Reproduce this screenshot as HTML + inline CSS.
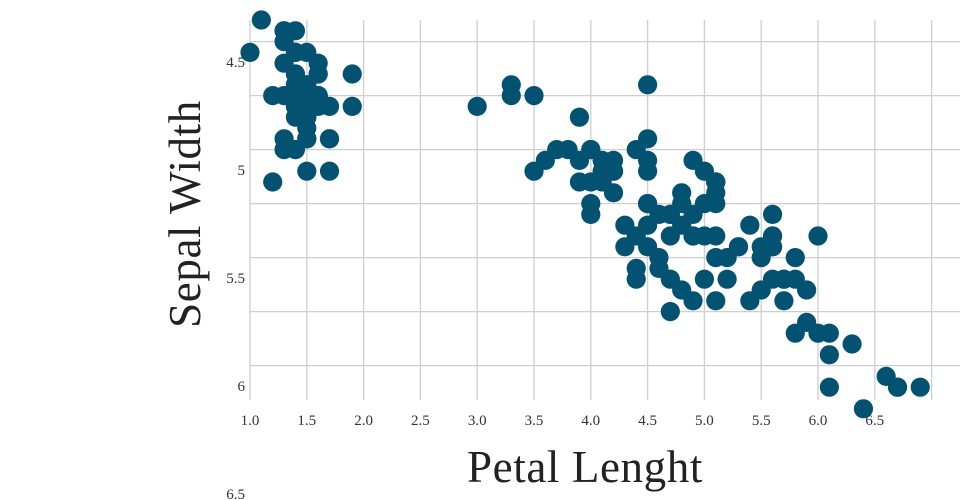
<!DOCTYPE html>
<html><head><meta charset="utf-8"><style>
html,body{margin:0;padding:0;background:#fff;}
svg{display:block;}
text{font-family:"Liberation Serif",serif;}
</style></head><body>
<svg id="s" width="960" height="500" xmlns="http://www.w3.org/2000/svg">
<g id="grid" stroke="#cfcfcf" stroke-width="1.3"></g>
<g id="pts" fill="#035272"></g>
<g font-size="15" fill="#333" id="lab"></g>
<text x="585" y="482" font-size="45" letter-spacing="0.6" text-anchor="middle" fill="#222">Petal Lenght</text>
<text transform="translate(200,214) rotate(-90)" font-size="45" letter-spacing="0.6" text-anchor="middle" fill="#222">Sepal Width</text>
</svg>
<script>
var NS="http://www.w3.org/2000/svg";
function el(p,n,a,t){var e=document.createElementNS(NS,n);for(var k in a)e.setAttribute(k,a[k]);if(t)e.textContent=t;p.appendChild(e);}
var g=document.getElementById('grid'),lab=document.getElementById('lab'),pts=document.getElementById('pts');
for(var i=0;i<13;i++){var x=250+i*56.8;el(g,'line',{x1:x,x2:x,y1:20,y2:400});}
for(var j=0;j<7;j++){var y=41.6+j*54;el(g,'line',{x1:250,x2:960,y1:y,y2:y});}
var xl=["1.0","1.5","2.0","2.5","3.0","3.5","4.0","4.5","5.0","5.5","6.0","6.5"];
for(var i=0;i<xl.length;i++)el(lab,'text',{x:250+i*56.8,y:425,'text-anchor':'middle'},xl[i]);
var yl=["4.5","5","5.5","6","6.5"];
for(var j=0;j<yl.length;j++)el(lab,'text',{x:245,y:67+j*108,'text-anchor':'end'},yl[j]);
var d=[5.1,1.4,4.9,1.4,4.7,1.3,4.6,1.5,5.0,1.4,5.4,1.7,4.6,1.4,5.0,1.5,4.4,1.4,4.9,1.5,
5.4,1.5,4.8,1.6,4.8,1.4,4.3,1.1,5.8,1.2,5.7,1.5,5.4,1.3,5.1,1.4,5.7,1.7,5.1,1.5,
5.4,1.7,5.1,1.5,4.6,1.0,5.1,1.7,4.8,1.9,5.0,1.6,5.0,1.6,5.2,1.5,5.2,1.4,4.7,1.6,
4.8,1.6,5.4,1.5,5.2,1.5,5.5,1.4,4.9,1.5,5.0,1.2,5.5,1.3,4.9,1.4,4.4,1.3,5.1,1.5,
5.0,1.3,4.5,1.3,4.4,1.3,5.0,1.6,5.1,1.9,4.8,1.4,5.1,1.6,4.6,1.4,5.3,1.5,5.0,1.4,
7.0,4.7,6.4,4.5,6.9,4.9,5.5,4.0,6.5,4.6,5.7,4.5,6.3,4.7,4.9,3.3,6.6,4.6,5.2,3.9,
5.0,3.5,5.9,4.2,6.0,4.0,6.1,4.7,5.6,3.6,6.7,4.4,5.6,4.5,5.8,4.1,6.2,4.5,5.6,3.9,
5.9,4.8,6.1,4.0,6.3,4.9,6.1,4.7,6.4,4.3,6.6,4.4,6.8,4.8,6.7,5.0,6.0,4.5,5.7,3.5,
5.5,3.8,5.5,3.7,5.8,3.9,6.0,5.1,5.4,4.5,6.0,4.5,6.7,4.7,6.3,4.4,5.6,4.1,5.5,4.0,
5.5,4.4,6.1,4.6,5.8,4.0,5.0,3.3,5.6,4.2,5.7,4.2,5.7,4.2,6.2,4.3,5.1,3.0,5.7,4.1,
6.3,6.0,5.8,5.1,7.1,5.9,6.3,5.6,6.5,5.8,7.6,6.6,4.9,4.5,7.3,6.3,6.7,5.8,7.2,6.1,
6.5,5.1,6.4,5.3,6.8,5.5,5.7,5.0,5.8,5.1,6.4,5.3,6.5,5.5,7.7,6.7,7.7,6.9,6.0,5.0,
6.9,5.7,5.6,4.9,7.7,6.7,6.3,4.9,6.7,5.7,7.2,6.0,6.2,4.8,6.1,4.9,6.4,5.6,7.2,5.8,
7.4,6.1,7.9,6.4,6.4,5.6,6.3,5.1,6.1,5.6,7.7,6.1,6.3,5.6,6.4,5.5,6.0,4.8,6.9,5.4,
6.7,5.6,6.9,5.1,5.8,5.1,6.8,5.9,6.7,5.7,6.7,5.2,6.3,5.0,6.5,5.2,6.2,5.4,5.9,5.1];
for(var k=0;k<d.length;k+=2){el(pts,'circle',{cx:250+(d[k+1]-1)*113.6,cy:41.6+(d[k]-4.5)*108,r:9.6});}
</script>
</body></html>
